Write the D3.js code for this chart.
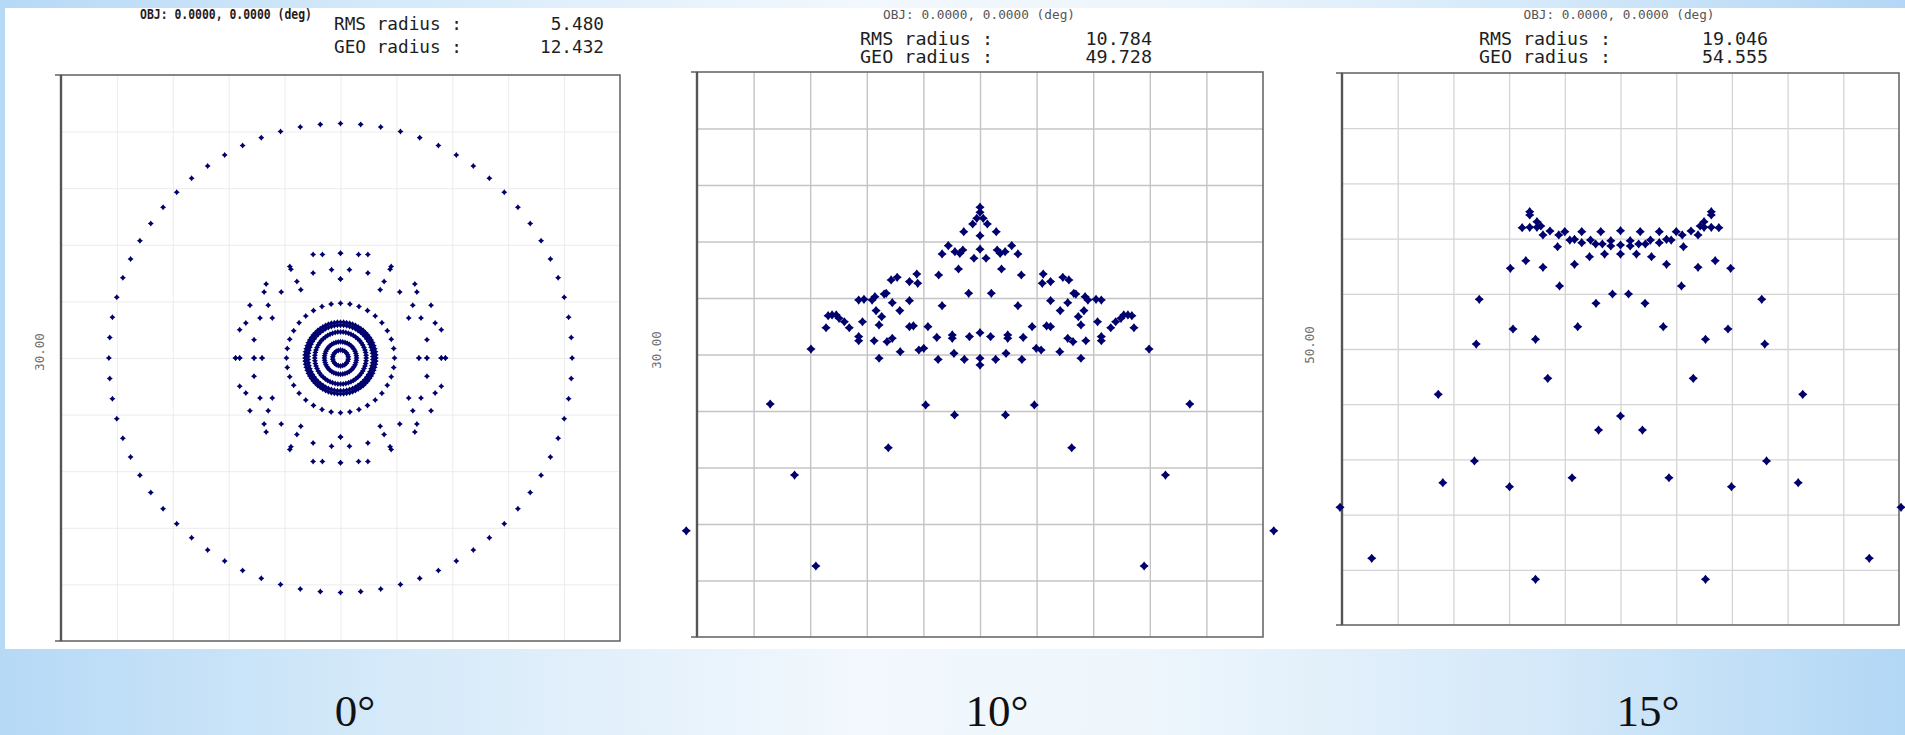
<!DOCTYPE html>
<html><head><meta charset="utf-8">
<script src="https://cdn.jsdelivr.net/npm/d3@7/dist/d3.min.js"></script>
<style>html,body{margin:0;padding:0;overflow:hidden;background:#fff}</style>
</head><body>
<svg id="chart" width="1905" height="735"></svg>
<script>
// ---------------- DATA ----------------
const fieldLabels = ["0°", "10°", "15°"];
const objLabels = ["OBJ: 0.0000, 0.0000 (deg)", "OBJ: 0.0000, 0.0000 (deg)", "OBJ: 0.0000, 0.0000 (deg)"];
const rmsRadius = ["5.480", "10.784", "19.046"];
const geoRadius = ["12.432", "49.728", "54.555"];
const scaleBars = ["30.00", "30.00", "50.00"];
const boxSizes = [30, 30, 50];      // full box width in µm
const gridSteps = [3, 3, 5];        // grid spacing in µm

// Field 0°: rotationally symmetric rings (radius µm, number of rays)
const rings0Radius = [12.43, 2.90, 1.90, 1.74, 1.38, 0.86, 0.42];
const rings0Count  = [72, 36, 72, 66, 60, 44, 22];
// Field 0°: intermediate scattered rays, first quadrant (x µm, y µm), symmetric in x and y
const scatter0Quadrant = [
  [0,5.55],[0.97,5.48],[1.47,5.48],[2.72,4.85],[2.66,4.70],[0.48,4.68],[1.47,4.50],[0,4.19],
  [2.34,4.06],[3.99,3.92],[2.13,3.62],[3.18,3.50],[4.10,3.50],[3.88,2.79],[4.86,2.79],
  [3.66,2.12],[4.32,2.12],[5.08,1.85],[5.41,1.50],[4.64,0.97],[4.21,0],[4.64,0],[5.41,0],[5.63,0]
];
// Field 10°: left half (x<=0), mirror symmetric about x=0 (µm)
const spots10Half = [
  [0,7.82],[0,7.55],[0,6.31],[0,5.59],[0,1.16],[0,-0.20],[0,-0.56],
  [-0.17,7.23],[-0.39,6.93],[-0.86,6.52],
  [-1.68,5.78],[-2.01,5.34],[-1.33,5.46],[-1.07,5.37],[-0.91,5.55],[-0.32,5.11],
  [-1.14,4.54],[-2.19,4.22],
  [-4.71,3.96],[-4.39,4.10],[-3.74,3.87],[-3.35,4.27],[-3.30,3.78],
  [-6.43,2.89],[-6.15,2.93],[-5.72,2.89],[-5.57,3.07],[-5.08,3.21],[-4.97,3.25],
  [-4.65,2.75],[-3.74,2.86],[-5.51,2.33],[-5.21,2.01],[-4.25,2.33],[-2.01,2.59],[-0.60,3.25],
  [-8.05,2.06],[-7.84,2.10],[-7.62,2.10],[-7.47,1.92],[-7.19,1.74],[-6.93,1.42],[-8.16,1.42],
  [-6.23,1.74],[-5.35,1.57],[-3.74,1.48],[-3.53,1.52],[-2.76,1.48],
  [-6.43,0.95],[-6.43,0.73],[-5.61,0.73],[-4.93,0.68],[-4.65,0.86],[-4.23,0.15],[-3.24,0.24],[-2.98,0.33],
  [-2.29,0.91],[-1.47,1.04],[-1.47,0.86],[-0.56,0.95],
  [-5.35,-0.20],[-2.22,-0.26],[-1.38,0.06],[-0.83,-0.26],
  [-8.96,0.29],[-11.12,-2.63],[-2.88,-2.68],[-1.35,-3.21],
  [-4.86,-4.95],[-9.83,-6.40],[-15.57,-9.36],[-8.70,-11.23]
];
// Field 15°: left half (x<=0), mirror symmetric about x=0 (µm)
const spots15Half = [
  [0,10.72],[0,9.42],[0,8.60],[0,-6.07],
  [-8.15,12.44],[-8.15,12.14],[-8.83,10.99],[-8.15,11.02],[-7.50,11.53],[-7.50,11.02],[-7.15,11.14],
  [-6.96,10.33],[-6.33,10.69],[-5.54,10.33],[-5.00,10.63],[-5.65,9.27],[-4.55,9.87],[-4.13,9.93],
  [-3.48,10.63],[-3.48,9.63],[-2.69,9.87],[-2.23,9.51],[-1.77,10.63],[-1.63,9.51],[-0.87,9.81],[-0.87,9.33],
  [-2.78,8.36],[-1.43,8.60],[-4.13,7.67],[-8.50,8.00],[-9.89,7.31],[-6.96,7.40],[-5.47,5.71],
  [-12.68,4.50],[-2.20,4.14],[-0.72,4.98],[-9.65,1.81],[-12.95,0.45],[-7.63,0.88],[-3.84,2.02],
  [-6.53,-2.66],[-16.36,-4.11],[-1.97,-7.34],[-4.35,-11.66],[-9.96,-12.47],[-13.11,-10.14],
  [-15.95,-12.11],[-25.18,-14.34],[-22.33,-18.96],[-7.63,-20.86]
];

// ---------------- LAYOUT ----------------
const layout = [
  {x0:61,  x1:620,  y0:75, y1:641, gridColor:"#ececec", gridWidth:1, objX:226, objW:172, objSize:14, objBold:true,
   labX:334, labW:128, valX:604, rmsY:30, geoY:53, barX:40, barY:352, fieldX:355, mark:3.0, w:0.42},
  {x0:697, x1:1263, y0:72, y1:637, gridColor:"#c4c4c4", gridWidth:1.4, objX:979, objW:192, objSize:12, objBold:false,
   labX:860, labW:133, valX:1152, rmsY:45, geoY:63, barX:657, barY:350, fieldX:997, mark:4.6, w:0.44},
  {x0:1342,x1:1899, y0:73, y1:625, gridColor:"#d4d4d4", gridWidth:1.3, objX:1619, objW:191, objSize:12, objBold:false,
   labX:1479, labW:132, valX:1768, rmsY:45, geoY:63, barX:1310, barY:345, fieldX:1648, mark:4.6, w:0.44}
];

// ---------------- BUILD POINT SETS ----------------
function ringsToPoints(radii, counts){
  const pts = [];
  radii.forEach((r,i)=>{
    const n = counts[i];
    for(let k=0;k<n;k++){
      const a = Math.PI/2 + k*2*Math.PI/n;
      pts.push([r*Math.cos(a), r*Math.sin(a)]);
    }
  });
  return pts;
}
function mirrorXY(q){ const o=[]; q.forEach(([x,y])=>{o.push([x,y],[-x,y],[x,-y],[-x,-y]);}); return o; }
function mirrorX(h){ const o=[]; h.forEach(([x,y])=>{o.push([x,y]); if(x!==0) o.push([-x,y]);}); return o; }

const spotSets = [
  ringsToPoints(rings0Radius, rings0Count).concat(mirrorXY(scatter0Quadrant)),
  mirrorX(spots10Half),
  mirrorX(spots15Half)
];

// ---------------- DRAW ----------------
const svg = d3.select("#chart");
const defs = svg.append("defs");
const bg = defs.append("linearGradient").attr("id","bg").attr("x1","0").attr("x2","1").attr("y1","0").attr("y2","0");
[["0%","#b6d9f6"],["18%","#d2e8f9"],["45%","#f2f8fd"],["60%","#eef6fc"],["82%","#d3e8f9"],["100%","#b2d7f5"]]
  .forEach(([o,c])=>bg.append("stop").attr("offset",o).attr("stop-color",c));
svg.append("rect").attr("width",1905).attr("height",735).attr("fill","url(#bg)");
svg.append("rect").attr("x",5).attr("y",8).attr("width",1900).attr("height",641).attr("fill","#ffffff");

function star4(wr){
  return { draw(ctx, size){
    const r = Math.sqrt(size), w = r*wr;
    ctx.moveTo(0,-r); ctx.lineTo(w,-w); ctx.lineTo(r,0); ctx.lineTo(w,w);
    ctx.lineTo(0,r); ctx.lineTo(-w,w); ctx.lineTo(-r,0); ctx.lineTo(-w,-w); ctx.closePath();
  }};
}

layout.forEach((L,i)=>{
  const half = boxSizes[i]/2;
  const x = d3.scaleLinear().domain([-half,half]).range([L.x0,L.x1]);
  const y = d3.scaleLinear().domain([-half,half]).range([L.y1,L.y0]);
  const g = svg.append("g");
  const gridVals = d3.range(-half+gridSteps[i], half-1e-6, gridSteps[i]);

  const gx = g.append("g").attr("transform",`translate(0,${L.y1})`)
    .call(d3.axisBottom(x).tickValues(gridVals).tickSize(-(L.y1-L.y0)).tickFormat(""));
  const gy = g.append("g").attr("transform",`translate(${L.x0},0)`)
    .call(d3.axisLeft(y).tickValues(gridVals).tickSize(-(L.x1-L.x0)).tickFormat(""));
  [gx,gy].forEach(a=>{ a.select(".domain").remove();
    a.selectAll(".tick line").attr("stroke",L.gridColor).attr("stroke-width",L.gridWidth); });

  // frame
  g.append("rect").attr("x",L.x0).attr("y",L.y0).attr("width",L.x1-L.x0).attr("height",L.y1-L.y0)
    .attr("fill","none").attr("stroke","#6a6a6a").attr("stroke-width",1.6);
  g.append("line").attr("x1",L.x0-6).attr("x2",L.x0).attr("y1",L.y0).attr("y2",L.y0).attr("stroke","#6a6a6a").attr("stroke-width",1.6);
  g.append("line").attr("x1",L.x0-6).attr("x2",L.x0).attr("y1",L.y1).attr("y2",L.y1).attr("stroke","#6a6a6a").attr("stroke-width",1.6);
  g.append("line").attr("x1",L.x0).attr("x2",L.x0).attr("y1",L.y0).attr("y2",L.y1).attr("stroke","#555").attr("stroke-width",2.4);

  // texts
  g.append("text").attr("x",L.objX).attr("y",19).attr("text-anchor","middle")
    .attr("font-family","DejaVu Sans Mono, monospace").attr("font-size",L.objSize)
    .attr("font-weight",L.objBold?"bold":"normal").attr("fill",L.objBold?"#2a1a1a":"#555")
    .attr("textLength",L.objW).attr("lengthAdjust","spacingAndGlyphs").text(objLabels[i]);
  [["RMS radius :",rmsRadius[i],L.rmsY],["GEO radius :",geoRadius[i],L.geoY]].forEach(([lab,val,yy])=>{
    g.append("text").attr("x",L.labX).attr("y",yy).attr("font-family","DejaVu Sans Mono, monospace")
      .attr("font-size",18).attr("fill","#1e1e1e").attr("textLength",L.labW).attr("lengthAdjust","spacingAndGlyphs").text(lab);
    g.append("text").attr("x",L.valX).attr("y",yy).attr("text-anchor","end").attr("font-family","DejaVu Sans Mono, monospace")
      .attr("font-size",18).attr("fill","#1e1e1e").attr("textLength",val.length*L.labW/12).attr("lengthAdjust","spacingAndGlyphs").text(val);
  });
  g.append("text").attr("transform",`translate(${L.barX},${L.barY}) rotate(-90)`).attr("text-anchor","middle")
    .attr("dominant-baseline","middle").attr("font-family","DejaVu Sans Mono, monospace").attr("font-size",12.5)
    .attr("fill","#707070").text(scaleBars[i]);

  // spots
  g.append("g").selectAll("path").data(spotSets[i]).join("path")
    .attr("transform",d=>`translate(${x(d[0])},${y(d[1])})`)
    .attr("d",d3.symbol().type(star4(L.w)).size(L.mark*L.mark))
    .attr("fill","#00006e");

  // field label
  svg.append("text").attr("x",L.fieldX).attr("y",726).attr("text-anchor","middle")
    .attr("font-family","Liberation Serif, Times New Roman, serif").attr("font-size",45).attr("fill","#111")
    .text(fieldLabels[i]);
});
</script>
</body></html>
